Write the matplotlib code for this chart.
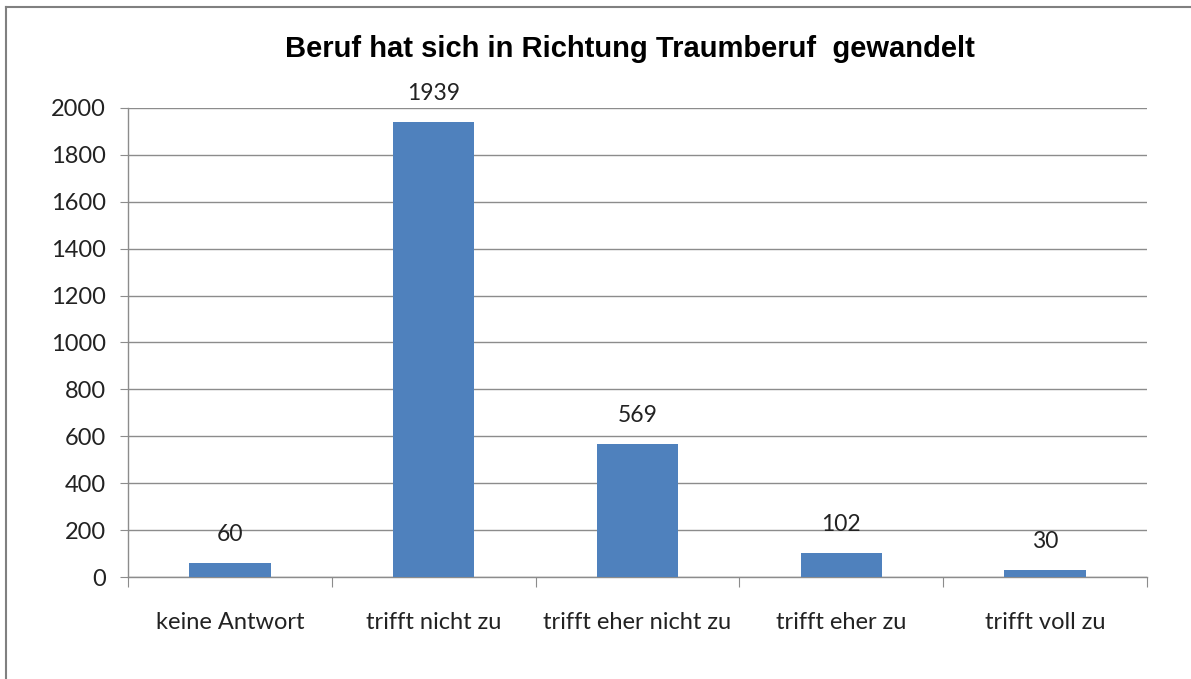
import matplotlib.pyplot as plt
from matplotlib.lines import Line2D

categories = ['keine Antwort', 'trifft nicht zu', 'trifft eher nicht zu', 'trifft eher zu', 'trifft voll zu']
values = [60, 1939, 569, 102, 30]
yticks = [0, 200, 400, 600, 800, 1000, 1200, 1400, 1600, 1800, 2000]

fig = plt.figure(figsize=(11.91, 6.79), dpi=100)
ax = fig.add_axes([0.1075, 0.1502, 0.8555, 0.6908])

x = range(len(categories))
ax.bar(x, values, width=0.4, color='#4F81BD', zorder=3)
for i, v in zip(x, values):
    ax.annotate(str(v), (i, v), xytext=(0, 13), textcoords='offset points',
                ha='center', va='bottom', fontsize=16.5, family='Lato', color='#222222')

ax.set_xlim(-0.5, len(categories) - 0.5)
ax.set_ylim(0, 2000)
ax.set_yticks(yticks)
ax.set_yticklabels([str(t) for t in yticks], fontsize=17, family='Lato', color='#222222')
ax.yaxis.grid(True, color='#8c8c8c', linewidth=1, zorder=0)

ax.set_xticks([i - 0.5 for i in range(len(categories) + 1)])
ax.set_xticklabels([])
ax.set_xticks(list(x), minor=True)
ax.set_xticklabels(categories, minor=True, fontsize=17, family='Lato', color='#222222')
ax.tick_params(axis='x', which='major', length=7, color='#8c8c8c', direction='out')
ax.tick_params(axis='x', which='minor', length=0, pad=25)
ax.tick_params(axis='y', length=6, color='#8c8c8c', pad=10)

for s in ['top', 'right']:
    ax.spines[s].set_visible(False)
for s in ['left', 'bottom']:
    ax.spines[s].set_color('#8c8c8c')
    ax.spines[s].set_linewidth(1)

fig.text(0.529, 0.928, 'Beruf hat sich in Richtung Traumberuf  gewandelt',
         ha='center', va='center', fontsize=21, fontweight='bold', family='Liberation Sans')

# outer chart border (left and top visible)
fig.add_artist(Line2D([6 / 1191, 6 / 1191], [0, 1 - 7 / 679], color='#808080', linewidth=1.5))
fig.add_artist(Line2D([6 / 1191, 1], [1 - 7 / 679, 1 - 7 / 679], color='#808080', linewidth=1.5))

fig.savefig('out.png', dpi=100)
